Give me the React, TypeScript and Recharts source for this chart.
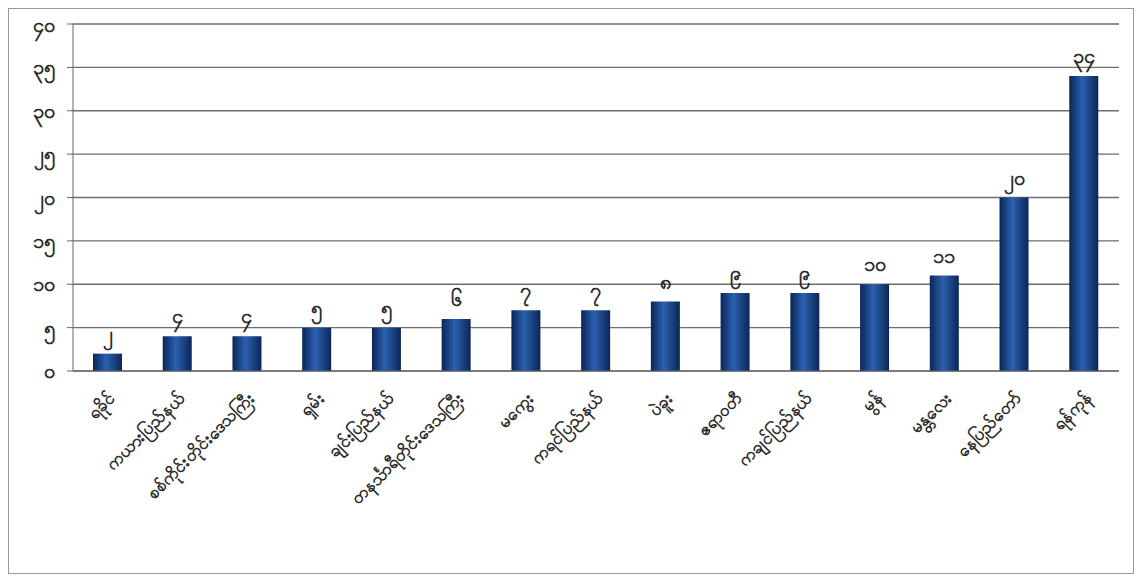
import React from 'react';
import { BarChart, Bar, XAxis, YAxis, CartesianGrid, LabelList } from 'recharts';

const regions = [
    'ရခိုင်',
    'ကယားပြည်နယ်',
    'စစ်ကိုင်းတိုင်းဒေသကြီး',
    'ရှမ်း',
    'ချင်းပြည်နယ်',
    'တနင်္သာရီတိုင်းဒေသကြီး',
    'မကွေး',
    'ကရင်ပြည်နယ်',
    'ပဲခူး',
    'ဧရာဝတီ',
    'ကချင်ပြည်နယ်',
    'မွန်',
    'မန္တလေး',
    'နေပြည်တော်',
    'ရန်ကုန်',
];

const counts = [2, 4, 4, 5, 5, 6, 7, 7, 8, 9, 9, 10, 11, 20, 34];

const yTicks = [0, 5, 10, 15, 20, 25, 30, 35, 40];

const data = regions.map((name, i) => ({ name, value: counts[i] }));

// western digits -> myanmar digits
const mm = (n: number | string) =>
    String(n).replace(/\d/g, (d) => String.fromCharCode(0x1040 + Number(d)));

const FONT = '"Noto Sans", "DejaVu Sans", sans-serif';

const CategoryTick = (props: any) => {
    const { x, y, payload } = props;
    return (
        <g transform={`translate(${x + 8},${y + 20})`}>
            <text
                transform="rotate(-45)"
                textAnchor="end"
                fontSize={17}
                fontWeight={600}
                fill="#2a2a2a"
                fontFamily={FONT}
            >
                {payload.value}
            </text>
        </g>
    );
};

export default function App() {
    return (
        <div style={{ width: 1126, height: 566, border: '1px solid #999', boxSizing: 'border-box', background: '#fff' }}>
            <BarChart
                width={1124}
                height={564}
                data={data}
                margin={{ top: 15, right: 14, left: 0, bottom: 10 }}
                barCategoryGap="30%"
            >
                <defs>
                    <linearGradient id="barFill" x1="0" y1="0" x2="1" y2="0">
                        <stop offset="0%" stopColor="#0b2656" />
                        <stop offset="45%" stopColor="#2b60b0" />
                        <stop offset="100%" stopColor="#0b2656" />
                    </linearGradient>
                </defs>
                <CartesianGrid vertical={false} stroke="#6e6e6e" strokeWidth={1.3} />
                <XAxis
                    dataKey="name"
                    interval={0}
                    height={192}
                    tick={<CategoryTick />}
                    tickLine={false}
                    axisLine={{ stroke: '#666' }}
                />
                <YAxis
                    domain={[0, 40]}
                    ticks={yTicks}
                    width={64}
                    tickMargin={12}
                    tickFormatter={(v) => mm(v)}
                    tick={{ fontSize: 20, fontWeight: 600, fill: '#2a2a2a', fontFamily: FONT }}
                    tickLine={{ stroke: '#666' }}
                    axisLine={{ stroke: '#666' }}
                />
                <Bar dataKey="value" fill="url(#barFill)" barSize={29} isAnimationActive={false}>
                    <LabelList
                        dataKey="value"
                        position="top"
                        offset={13}
                        formatter={(v: any) => mm(v)}
                        style={{ fontSize: 20, fontWeight: 600, fill: '#2a2a2a', fontFamily: FONT }}
                    />
                </Bar>
            </BarChart>
        </div>
    );
}
